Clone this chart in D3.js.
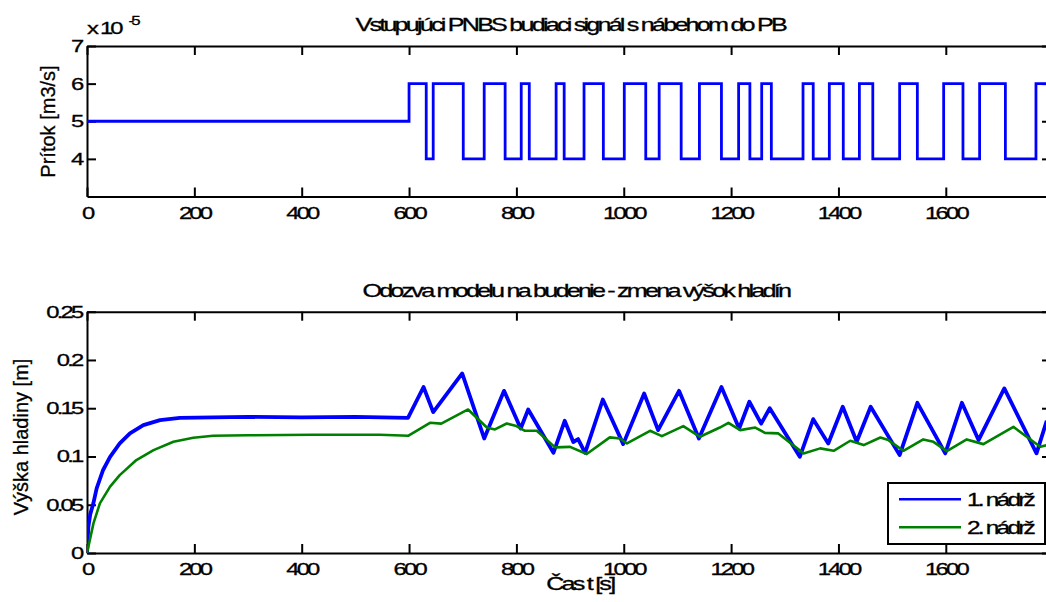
<!DOCTYPE html>
<html>
<head>
<meta charset="utf-8">
<script src="https://cdn.jsdelivr.net/npm/d3@7"></script>
<style>
body{margin:0;background:#fff}
svg{display:block}
text{font-family:"Liberation Sans",Arial,sans-serif;fill:#000;stroke:#000;stroke-width:0.3px}
.h{transform-box:fill-box;transform:scaleX(1.4);letter-spacing:-2px}
.hc{transform-origin:center}
.hl{transform-origin:left center}
.hr{transform-origin:right center}
</style>
</head>
<body>
<script>
// ---------- data ----------
const xTicks = [0,200,400,600,800,1000,1200,1400,1600];
const topYTicks = [4,5,6,7];
const botYTicks = [0,0.05,0.1,0.15,0.2,0.25];
const botYLabels = ["0","0.05","0.1","0.15","0.2","0.25"];

// PNBS input: switching times [s] and level after switch [x 1e-5 m3/s]
const switchTimes = [0,600,632,645,701,740,779,809,824,874,889,926,962,1001,1041,1066,1107,1141,1182,1214,1235,1257,1275,1334,1353,1383,1409,1439,1464,1514,1547,1596,1632,1663,1711,1768];
const switchLevels = [5,6,4,6,4,6,4,6,4,6,4,6,4,6,4,6,4,6,4,6,4,6,4,6,4,6,4,6,4,6,4,6,4,6,4,6];
const signalEnd = 1796;

// tank 1 level
const tank1T = [0,2.5,6,11.8,18,30,43,61,80,105,136,173,235,300,400,500,598,627,645,699,740,777,808,822,869,890,906,915,928,961,999,1038,1064,1103,1140,1182,1215,1234,1256,1272,1328,1353,1381,1408,1434,1460,1514,1547,1599,1630,1661,1709,1769,1788];
const tank1H = [0,0.027,0.04,0.0514,0.067,0.086,0.0997,0.1135,0.124,0.1325,0.1377,0.140,0.1405,0.141,0.1405,0.141,0.140,0.172,0.146,0.186,0.1187,0.168,0.129,0.1487,0.1038,0.137,0.115,0.118,0.1038,0.159,0.1128,0.1653,0.1273,0.168,0.1187,0.172,0.129,0.1567,0.134,0.150,0.0997,0.1387,0.1135,0.1515,0.1152,0.1515,0.1014,0.1556,0.1032,0.1556,0.117,0.1705,0.1032,0.137];

// tank 2 level
const tank2T = [0,12,24,43,61,92,124,161,198,235,300,420,545,599,639,660,710,745,760,782,800,816,838,872,900,931,974,993,1006,1049,1071,1111,1142,1179,1195,1217,1245,1263,1288,1335,1366,1391,1422,1447,1478,1493,1521,1558,1577,1602,1639,1670,1726,1776,1788];
const tank2H = [0,0.0307,0.0514,0.0687,0.0807,0.0963,0.1066,0.1152,0.1194,0.1215,0.122,0.1225,0.1225,0.1215,0.1349,0.134,0.1487,0.130,0.128,0.1342,0.1315,0.1266,0.1266,0.1094,0.110,0.1025,0.1198,0.1187,0.1135,0.1266,0.1211,0.1315,0.1204,0.130,0.1349,0.1273,0.130,0.1245,0.1239,0.1032,0.1084,0.1059,0.1163,0.1118,0.1197,0.117,0.1059,0.1177,0.1152,0.1056,0.1177,0.1128,0.1307,0.110,0.1118];

const legendLabels = ["1. nádrž","2. nádrž"];
const colors = ["#0000ff","#008000"];

// ---------- layout ----------
const W = 1046, H = 602;
const L = 87, R = 1051;
const svg = d3.select("body").append("svg").attr("width",W).attr("height",H);

const x = d3.scaleLinear().domain([0,1796]).range([L,R]);
const yT = d3.scaleLinear().domain([3,7]).range([196.5,46]);
const yB = d3.scaleLinear().domain([0,0.25]).range([553,311.7]);

const TICK = 9;

function styleAxis(g){
  g.selectAll("path,line").attr("stroke","#000").attr("stroke-width",2);
  g.selectAll("text").attr("font-size",17).attr("fill","#000");
}

function frame(y, yTickVals, yFmt, id){
  const [yb, yt] = y.range();
  svg.append("defs").append("clipPath").attr("id",id)
    .append("rect").attr("x",L).attr("y",yt).attr("width",R-L).attr("height",yb-yt);

  const gb = svg.append("g").attr("transform",`translate(0,${yb})`)
    .call(d3.axisBottom(x).tickValues(xTicks).tickSize(-TICK).tickSizeOuter(0).tickPadding(10).tickFormat(d3.format("d")));
  styleAxis(gb);
  gb.selectAll("text").attr("class","h hc");

  const gt = svg.append("g").attr("transform",`translate(0,${yt})`)
    .call(d3.axisTop(x).tickValues(xTicks).tickSize(-TICK).tickSizeOuter(0).tickFormat(""));
  styleAxis(gt);

  const gl = svg.append("g").attr("transform",`translate(${L},0)`)
    .call(d3.axisLeft(y).tickValues(yTickVals).tickSize(-TICK).tickSizeOuter(0).tickPadding(5).tickFormat(yFmt));
  styleAxis(gl);
  gl.selectAll("text").attr("class","h hr");

  const gr = svg.append("g").attr("transform",`translate(${R},0)`)
    .call(d3.axisRight(y).tickValues(yTickVals).tickSize(-TICK).tickSizeOuter(0).tickFormat(""));
  styleAxis(gr);
}

// ---------- top plot ----------
frame(yT, topYTicks, d3.format("d"), "clipTop");

const sig = switchTimes.map((t,i)=>({t, v:switchLevels[i]}));
sig.push({t:signalEnd, v:switchLevels[switchLevels.length-1]});
svg.append("path").datum(sig)
  .attr("clip-path","url(#clipTop)")
  .attr("fill","none").attr("stroke",colors[0]).attr("stroke-width",2.8)
  .attr("d", d3.line().x(d=>x(d.t)).y(d=>yT(d.v)).curve(d3.curveStepAfter));

svg.append("text").attr("class","h hl").attr("x",L).attr("y",34.3).attr("font-size",17).text("x 10");
svg.append("text").attr("class","h hl").attr("x",128.5).attr("y",25).attr("font-size",12).text("-5");

svg.append("text").attr("class","h hc").attr("x",570.5).attr("y",30.7).attr("font-size",18)
  .attr("text-anchor","middle").text("Vstupujúci PNBS budiaci signál s nábehom do PB");

svg.append("text").attr("transform","translate(55,121.5) rotate(-90)")
  .attr("font-size",20).attr("text-anchor","middle").text("Prítok [m3/s]");

// ---------- bottom plot ----------
frame(yB, botYTicks, (d,i)=>botYLabels[i], "clipBot");

const line = d3.line().x(d=>x(d[0])).y(d=>yB(d[1]));
svg.append("path").datum(tank1T.map((t,i)=>[t,tank1H[i]]))
  .attr("clip-path","url(#clipBot)")
  .attr("fill","none").attr("stroke",colors[0]).attr("stroke-width",3.8).attr("stroke-linejoin","round")
  .attr("d", line);
svg.append("path").datum(tank2T.map((t,i)=>[t,tank2H[i]]))
  .attr("clip-path","url(#clipBot)")
  .attr("fill","none").attr("stroke",colors[1]).attr("stroke-width",2.6).attr("stroke-linejoin","round")
  .attr("d", line);

svg.append("text").attr("class","h hc").attr("x",576).attr("y",296.7).attr("font-size",18)
  .attr("text-anchor","middle").text("Odozva modelu na budenie - zmena výšok hladín");

svg.append("text").attr("transform","translate(28.3,437) rotate(-90)")
  .attr("font-size",20).attr("text-anchor","middle").text("Výška hladiny [m]");

svg.append("text").attr("class","h hc").attr("x",580).attr("y",590).attr("font-size",18)
  .attr("text-anchor","middle").text("Čas t [s]");

// ---------- legend ----------
const lg = svg.append("g");
lg.append("rect").attr("x",888).attr("y",483).attr("width",157).attr("height",61)
  .attr("fill","#fff").attr("stroke","#000").attr("stroke-width",2);
legendLabels.forEach((lab,i)=>{
  const yy = 499.3 + i*28;
  lg.append("line").attr("x1",899).attr("x2",961).attr("y1",yy).attr("y2",yy)
    .attr("stroke",colors[i]).attr("stroke-width",2.4);
  lg.append("text").attr("class","h hl").attr("x",967).attr("y",yy).attr("dy","0.36em")
    .attr("font-size",17.5).text(lab);
});
</script>
</body>
</html>
